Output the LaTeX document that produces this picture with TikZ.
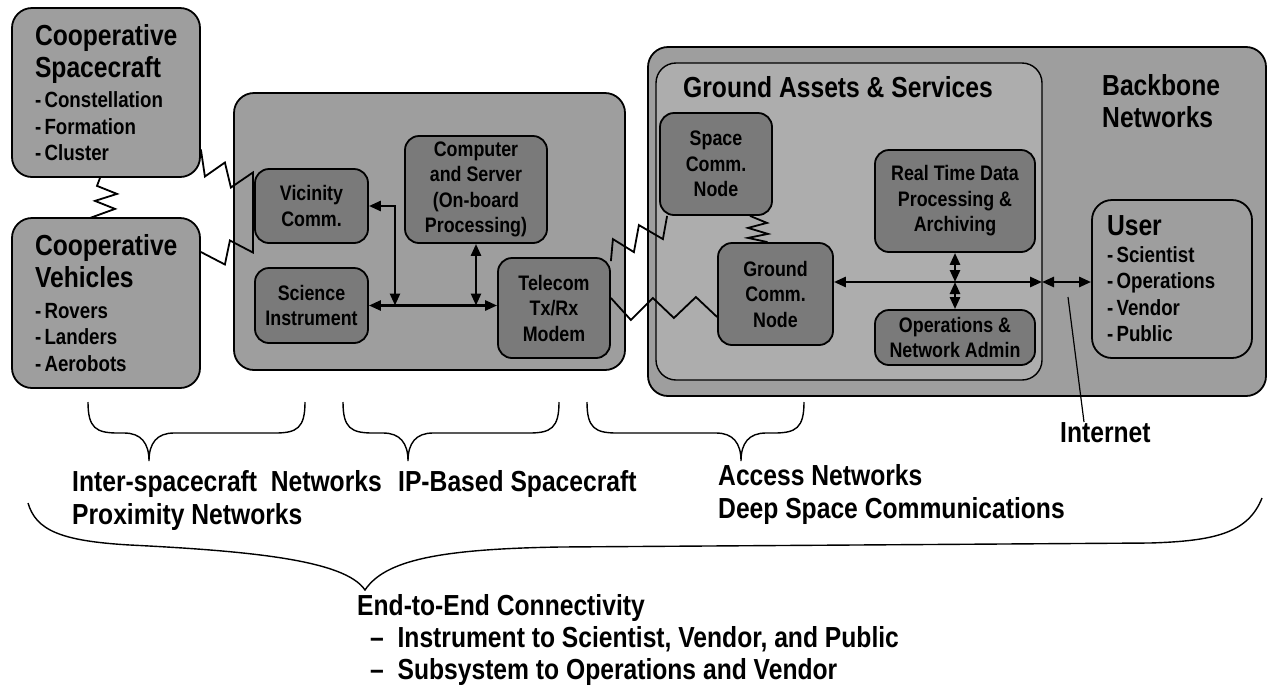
\documentclass[tikz,border=0pt]{standalone}
\usepackage{fontspec}
\setmainfont{Liberation Sans}[FakeStretch=0.85]
\usetikzlibrary{arrows.meta}

\definecolor{outerfill}{gray}{0.62}
\definecolor{groundfill}{gray}{0.68}
\definecolor{innerfill}{gray}{0.48}

\newcommand{\boxtitlefont}{\fontsize{29}{32}\selectfont\bfseries}
\newcommand{\boxitemfont}{\fontsize{22}{26.5}\selectfont\bfseries}
\newcommand{\unitfont}{\fontsize{21}{25.5}\selectfont\bfseries}
\newcommand{\notefont}{\fontsize{29}{33}\selectfont\bfseries}

\begin{document}
\begin{tikzpicture}[x=1pt, y=-1pt,
  area/.style={draw, line width=1.8pt, rounded corners=20pt, fill=outerfill, inner sep=0pt},
  unit/.style={draw, line width=1.8pt, rounded corners=14pt, fill=innerfill, align=center, font=\unitfont, inner sep=2pt},
  bolt/.style={line width=1.8pt},
  link/.style={line width=2.6pt, {Triangle[length=12pt,width=10pt]}-{Triangle[length=12pt,width=10pt]}},
  note/.style={font=\notefont, align=left, inner sep=0pt},
  brace/.style={line width=1.4pt}]
\useasboundingbox (0,0) rectangle (1274,689);

% outer areas
\node[area, minimum width=618pt, minimum height=349pt] (backbone) at (957,221.5) {};
\node[area, fill=groundfill, line width=1.4pt, minimum width=386pt, minimum height=317pt] (ground) at (849,221.5) {};
\node[area, minimum width=391pt, minimum height=277pt] (craft) at (429.5,231.5) {};

\node[area, minimum width=188pt, minimum height=169pt, text width=142pt, inner xsep=23pt, align=left] (coopsc) at (106,92.5)
  {\boxtitlefont Cooperative\par Spacecraft\par\vspace{4pt}\boxitemfont - Constellation\par - Formation\par - Cluster\par};
\node[area, minimum width=188pt, minimum height=170pt, text width=142pt, inner xsep=23pt, align=left] (coopveh) at (106,303)
  {\boxtitlefont Cooperative\par Vehicles\par\vspace{4pt}\boxitemfont - Rovers\par - Landers\par - Aerobots\par};
\node[area, minimum width=160pt, minimum height=158pt, text width=130pt, inner xsep=15pt, align=left] (user) at (1172,279)
  {\boxtitlefont User\par\boxitemfont - Scientist\par - Operations\par - Vendor\par - Public\par};

\node[anchor=north west, font=\boxtitlefont, inner sep=0pt] (gastitle) at (683,76) {Ground Assets \& Services};
\node[anchor=north west, font=\boxtitlefont, align=left, inner sep=0pt] (bbtitle) at (1102,74) {Backbone\\Networks};

% spacecraft units
\node[unit, minimum width=113pt, minimum height=74pt] (vic) at (311.5,206) {Vicinity\\Comm.};
\node[unit, minimum width=113pt, minimum height=75pt] (sci) at (311.5,305.5) {Science\\Instrument};
\node[unit, minimum width=142pt, minimum height=107pt] (comp) at (476,189.5) {Computer\\and Server\\(On-board\\Processing)};
\node[unit, minimum width=112pt, minimum height=100pt] (tel) at (554,308) {Telecom\\Tx/Rx\\Modem};

% ground units
\node[unit, minimum width=112pt, minimum height=102pt] (scn) at (716,164) {Space\\Comm.\\Node};
\node[unit, minimum width=115pt, minimum height=102pt] (gcn) at (775.5,294) {Ground\\Comm.\\Node};
\node[unit, minimum width=160pt, minimum height=102pt] (rtd) at (955,201) {Real Time Data\\Processing \&\\Archiving};
\node[unit, minimum width=160pt, minimum height=55pt] (ops) at (955,337.5) {Operations \&\\Network Admin};

% links
\coordinate (vicdrop) at (395,0);
\coordinate (inet) at (1042,282);
\draw[link] (sci.east) -- (sci.east -| tel.west);
\draw[link] (vic.east) -| (vicdrop |- sci.east);
\draw[link] (comp.south) -- (comp.south |- sci.east);
\draw[link] (gcn.east |- inet) -- (inet);
\draw[link] (inet) -- (inet -| user.west);
\draw[link] (rtd.south) -- (rtd.south |- inet);
\draw[link] (ops.north) -- (ops.north |- inet);

% radio links
\draw[bolt] ([xshift=-6pt]coopsc.south) -- ++(-3,8) -- ++(20,8) -- ++(-22,7) -- ++(20,8) -- ++(-22,8) -- ([xshift=-12pt]coopveh.north);
\draw[bolt] ([yshift=-57pt]coopsc.east) -- ++(4,27) -- ++(20,-14) -- ++(6,25) -- ++(22,-15) -- ++(0,80)
  -- ++(-23,-12) -- ++(-5,24) -- ([yshift=51pt]coopveh.east);
\draw[bolt] ([yshift=-4pt]tel.north east) -- ++(2,-22) -- ++(21,13) -- ++(5,-27) -- ++(24,14) -- ([xshift=8pt]scn.south west);
\draw[bolt] ([yshift=10pt]tel.east) -- ++(20,22) -- ++(22,-22) -- ++(21,20) -- ++(22,-21) -- ([yshift=-23pt]gcn.west);
\draw[bolt] ([xshift=34pt]scn.south) -- ++(17,7) -- ++(-19,5) -- ++(20,6) -- ++(-20,4) -- ([xshift=-8pt]gcn.north);

% braces
\foreach \lx/\tx/\rx in {88/149/305, 343/408/559, 587/741/804}
  \draw[brace] (\lx,402) .. controls (\lx,428) and (\lx+8,433) .. (\lx+30,433) -- (\tx-25,433)
    .. controls (\tx-8,433) and (\tx,443) .. (\tx,461) .. controls (\tx,443) and (\tx+8,433) .. (\tx+25,433)
    -- (\rx-30,433) .. controls (\rx-8,433) and (\rx,428) .. (\rx,402);
\draw[brace] (28,503) .. controls (36,530) and (60,541) .. (130,545) .. controls (250,551) and (345,560) .. (365,590)
  .. controls (385,560) and (440,549) .. (560,547) -- (1150,543) .. controls (1215,541) and (1248,533) .. (1262,498);

% labels
\node[note, anchor=north west] (isn) at (72,470) {Inter-spacecraft~~Networks\\Proximity Networks};
\node[note, anchor=north west] (ipsc) at (398,470) {IP-Based Spacecraft};
\node[note, anchor=north west] (acc) at (718,464) {Access Networks\\Deep Space Communications};
\node[note, anchor=north west] (inetlbl) at (1060,422) {Internet};
\node[note, anchor=north west, font=\fontsize{29}{32}\selectfont\bfseries] (e2e) at (357,594) {End-to-End Connectivity\\\hspace*{13pt}--~~Instrument to Scientist, Vendor, and Public\\\hspace*{13pt}--~~Subsystem to Operations and Vendor};
\coordinate (inetpt) at (1068,297);
\draw[line width=1.2pt] ([xshift=24pt]inetlbl.north west) -- (inetpt);
\end{tikzpicture}
\end{document}
